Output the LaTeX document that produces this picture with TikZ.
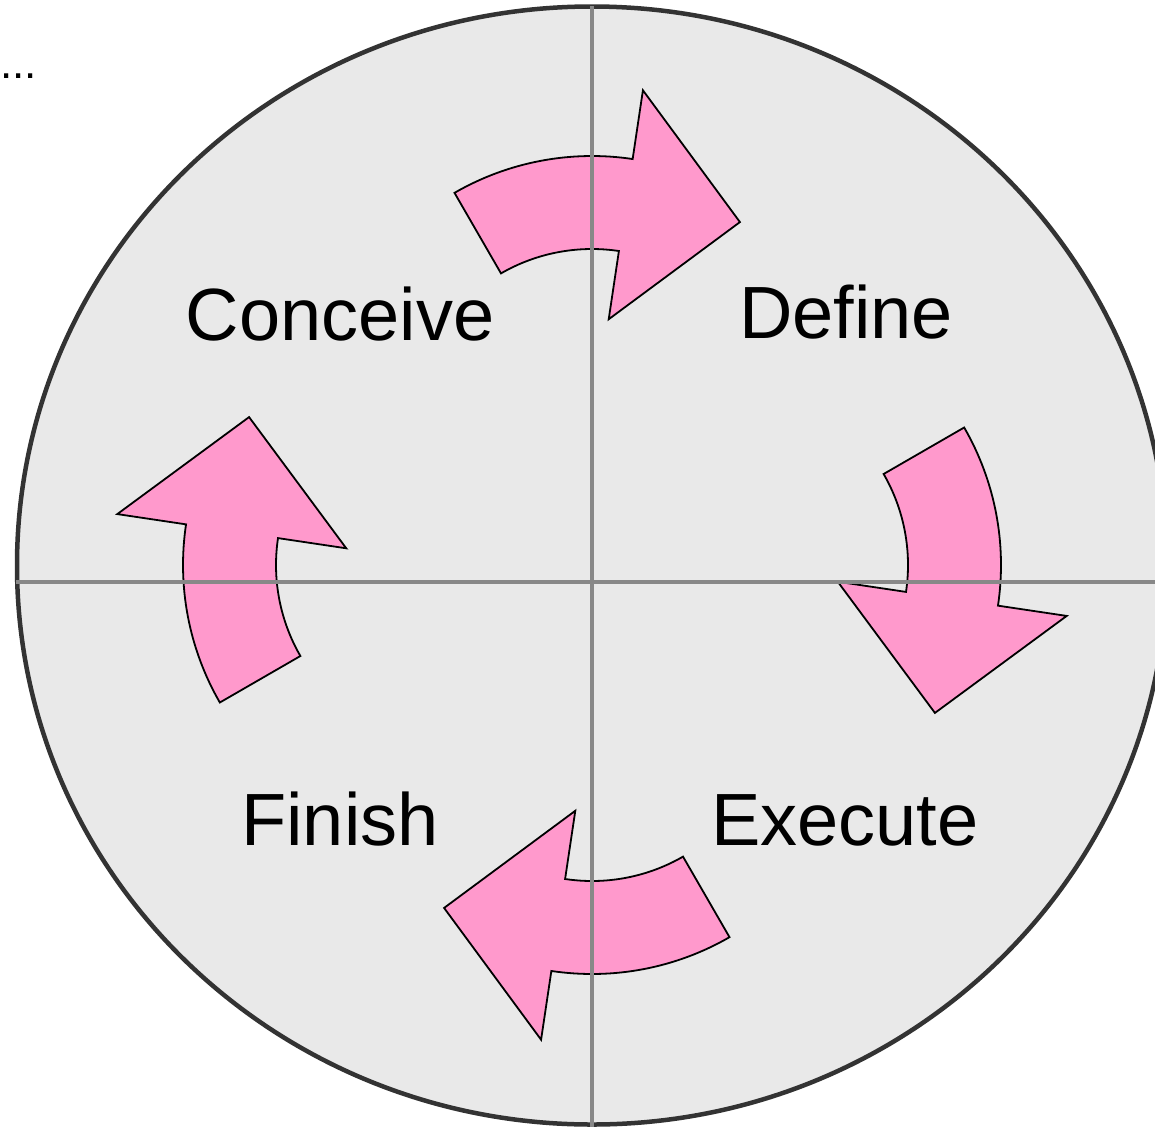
\documentclass[tikz,border=0pt]{standalone}
\usepackage{fontspec}
\setmainfont{Liberation Sans}
\definecolor{diskfill}{RGB}{233,233,233}
\definecolor{diskline}{RGB}{51,51,51}
\definecolor{axisgray}{RGB}{136,136,136}
\definecolor{arrowpink}{RGB}{255,153,204}
\tikzset{
  disk/.style={fill=diskfill,draw=diskline,line width=4.5pt},
  axisline/.style={draw=axisgray,line width=4pt},
  cyclearrow/.style={fill=arrowpink,draw=black,line width=1.8pt,line join=miter},
  phase/.style={font=\fontsize{74}{88}\selectfont,anchor=base,inner sep=0pt},
}
\newcommand{\cyclearrowpath}{%
  (120:275pt) arc[start angle=120,end angle=81.5,radius=275pt]
  -- (81.5:344.5pt) -- (54.7:256pt) -- (81.5:113pt) -- (81.5:182pt)
  arc[start angle=81.5,end angle=120,radius=182pt] -- cycle}
\begin{document}
\begin{tikzpicture}[x=1pt,y=1pt]
\useasboundingbox (0,0) rectangle (1155,-1127);
\clip (0,0) rectangle (1155,-1127);
\path[disk] (592,-565.5) ellipse[x radius=575pt,y radius=559pt];
\begin{scope}[shift={(592,-431)}]
  \path[cyclearrow] \cyclearrowpath;
\end{scope}
\begin{scope}[shift={(726,-565)},rotate=-90]
  \path[cyclearrow] \cyclearrowpath;
\end{scope}
\begin{scope}[shift={(592,-699)},rotate=-180]
  \path[cyclearrow] \cyclearrowpath;
\end{scope}
\begin{scope}[shift={(458,-565)},rotate=90]
  \path[cyclearrow] \cyclearrowpath;
\end{scope}
\coordinate (vtop) at (592,-6);
\coordinate (vbot) at (592,-1127);
\coordinate (hleft) at (16,-582);
\coordinate (hright) at (1155,-582);
\path[axisline] (vtop) -- (vbot);
\path[axisline] (hleft) -- (hright);
\node[phase] (conceive) at (340,-340) {Conceive};
\node[phase] (define) at (846,-338) {Define};
\node[phase] (finish) at (340,-845) {Finish};
\node[phase] (execute) at (845,-845) {Execute};
\node[font=\fontsize{44}{52}\selectfont,anchor=base west,inner sep=0pt] (dots) at (0,-78) {...};
\end{tikzpicture}
\end{document}
